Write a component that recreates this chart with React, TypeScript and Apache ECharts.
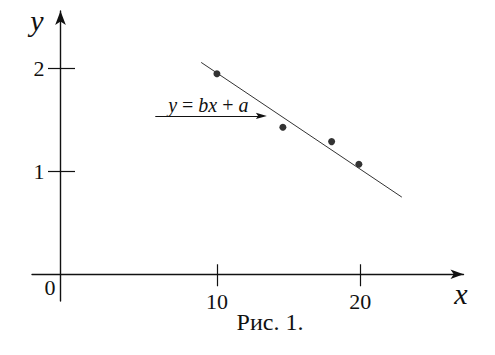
import React, { useEffect, useRef } from "react";
import * as echarts from "echarts";

const pointX = [10, 14.6, 18, 19.9];
const pointY = [1.95, 1.43, 1.29, 1.07];
const fitX = [8.9, 22.9];
const fitY = [2.06, 0.75];
const xTicks = [10, 20];
const yTicks = [1, 2];
const arrowX = [5.7, 13.1];
const arrowY = 1.54;
const xRange = [-2.9, 27.2];
const yRange = [-0.26, 2.56];

const SERIF = "Liberation Serif, Times New Roman, serif";
const INK = "#111";
const ARROW_HEAD = "path://M-10,0 M10,0 M0,0 L5.5,20 L0,16 L-5.5,20 Z";

export default function App() {
  const ref = useRef<HTMLDivElement>(null);
  useEffect(() => {
    if (!ref.current) return;
    const chart = echarts.init(ref.current, null, { renderer: "svg" });
    const scatterData = pointX.map((x, i) => [x, pointY[i]]);
    const fitData = fitX.map((x, i) => [x, fitY[i]]);
    const baseX = {
      type: "value",
      min: xRange[0],
      max: xRange[1],
      position: "bottom",
      splitLine: { show: false },
    };
    const baseY = {
      type: "value",
      min: yRange[0],
      max: yRange[1],
      position: "left",
      offset: -28.5,
      splitLine: { show: false },
    };
    chart.setOption({
      animation: false,
      textStyle: { fontFamily: SERIF },
      grid: { left: 32, right: 31.5, top: 11, bottom: 54, containLabel: false, outerBoundsMode: "none" },
      xAxis: [
        {
          ...baseX,
          axisLine: {
            show: true,
            onZero: true,
            symbol: ["none", "arrow"],
            symbolSize: [7, 13],
            lineStyle: { color: INK, width: 1.4 },
          },
          axisTick: { show: true, inside: false, length: 12, customValues: xTicks, lineStyle: { color: INK, width: 1.2 } },
          axisLabel: { show: true, customValues: xTicks, margin: -11, fontSize: 22, fontFamily: SERIF, color: INK },
        },
        {
          ...baseX,
          axisLine: { show: false, onZero: true },
          axisTick: { show: true, inside: true, length: 10, customValues: xTicks, lineStyle: { color: INK, width: 1.2 } },
          axisLabel: { show: false },
        },
      ],
      yAxis: [
        {
          ...baseY,
          axisLine: {
            show: true,
            onZero: false,
            symbol: ["none", "arrow"],
            symbolSize: [8, 14],
            lineStyle: { color: INK, width: 1.4 },
          },
          axisTick: { show: true, inside: false, length: 12.5, customValues: yTicks, lineStyle: { color: INK, width: 1.2 } },
          axisLabel: { show: true, customValues: yTicks, margin: 16, fontSize: 22, fontFamily: SERIF, color: INK },
        },
        {
          ...baseY,
          axisLine: { show: false, onZero: false },
          axisTick: { show: true, inside: true, length: 14.5, customValues: yTicks, lineStyle: { color: INK, width: 1.2 } },
          axisLabel: { show: false },
        },
      ],
      series: [
        {
          type: "line",
          data: fitData,
          symbol: "none",
          lineStyle: { color: "#333", width: 1 },
          silent: true,
          markLine: {
            silent: true,
            symbol: ["none", ARROW_HEAD],
            symbolSize: 11,
            lineStyle: { color: INK, width: 1.2, type: "solid" },
            label: {
              show: true,
              position: "insideMiddleTop",
              distance: 1,
              formatter: "{i|y} = {i|bx} + {i|a}",
              fontSize: 20,
              fontFamily: SERIF,
              color: INK,
              rich: { i: { fontStyle: "italic", fontSize: 20, fontFamily: SERIF, color: INK } },
            },
            data: [[{ coord: [arrowX[0], arrowY] }, { coord: [arrowX[1], arrowY] }]],
          },
        },
        {
          type: "scatter",
          data: scatterData,
          symbol: "circle",
          symbolSize: 7,
          itemStyle: { color: "#000" },
          silent: true,
        },
      ],
      graphic: [
        { type: "text", x: 50, y: 287, style: { text: "0", fontSize: 22, fontFamily: SERIF, fill: INK, align: "center", verticalAlign: "middle" } },
        { type: "text", x: 37, y: 20, style: { text: "y", fontSize: 30, fontStyle: "italic", fontFamily: SERIF, fill: INK, align: "center", verticalAlign: "middle" } },
        { type: "text", x: 461, y: 293, style: { text: "x", fontSize: 30, fontStyle: "italic", fontFamily: SERIF, fill: INK, align: "center", verticalAlign: "middle" } },
        { type: "text", x: 270, y: 322, style: { text: "Рис. 1.", fontSize: 24, fontFamily: SERIF, fill: INK, align: "center", verticalAlign: "middle" } },
      ],
    });
    return () => chart.dispose();
  }, []);
  return <div ref={ref} style={{ position: "absolute", left: 0, top: 0, width: 495, height: 355 }} />;
}
